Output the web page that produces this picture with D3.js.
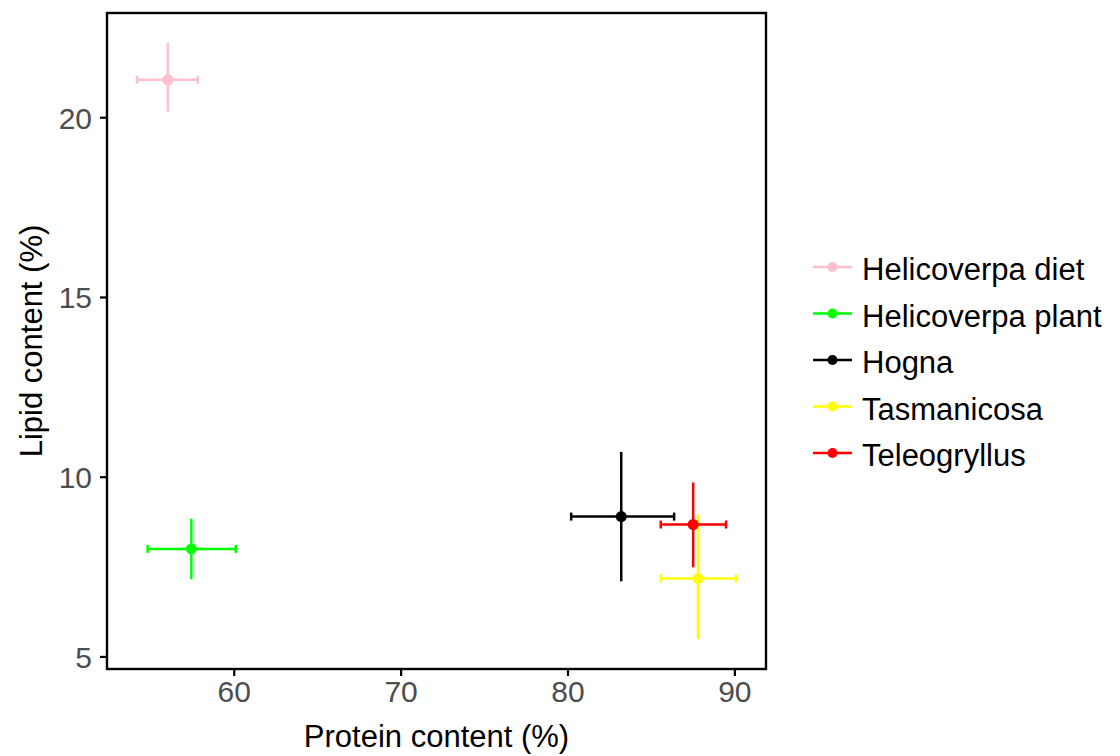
<!DOCTYPE html>
<html>
<head>
<meta charset="utf-8">
<script src="https://cdn.jsdelivr.net/npm/d3@7"></script>
<style>
  body { margin: 0; background: #fff; }
  svg text { font-family: "Liberation Sans", Arial, sans-serif; }
</style>
</head>
<body>
<div id="chart"></div>
<script>
// categories and values
var groups  = ["Helicoverpa diet", "Helicoverpa plant", "Hogna", "Tasmanicosa", "Teleogryllus"];
var colours = ["#FFC0CB", "#00FF00", "#000000", "#FFFF00", "#FF0000"];
var protein    = [56.05, 57.46, 83.22, 87.82, 87.53];
var proteinMin = [54.20, 54.84, 80.22, 85.59, 85.59];
var proteinMax = [57.85, 60.12, 86.39, 90.10, 89.50];
var lipid      = [21.04, 7.99, 8.89, 7.17, 8.67];
var lipidMin   = [20.15, 7.15, 7.09, 5.48, 7.48];
var lipidMax   = [22.07, 8.83, 10.69, 8.94, 9.84];
var xTicks = [60, 70, 80, 90];
var yTicks = [5, 10, 15, 20];

var data = groups.map(function(g, i) {
    return {group: g, colour: colours[i],
            x: protein[i], xmin: proteinMin[i], xmax: proteinMax[i],
            y: lipid[i], ymin: lipidMin[i], ymax: lipidMax[i]};
});

var W = 1120, H = 756;
var margin = {top: 13, left: 107};
var pw = 659, ph = 656;   // panel size
var lw = 2.5;             // error bar line width

// ggplot-like 5% expansion
function expand(lo, hi) { var d = (hi - lo) * 0.05; return [lo - d, hi + d]; }
var x = d3.scaleLinear()
    .domain(expand(d3.min(proteinMin), d3.max(proteinMax)))
    .range([0, pw]);
var y = d3.scaleLinear()
    .domain(expand(d3.min(lipidMin), d3.max(lipidMax)))
    .range([ph, 0]);

var svg = d3.select("#chart").append("svg")
    .attr("width", W).attr("height", H);

var g = svg.append("g")
    .attr("transform", "translate(" + margin.left + "," + margin.top + ")");

// axes
var xAxis = g.append("g")
    .attr("transform", "translate(0," + ph + ")")
    .call(d3.axisBottom(x).tickValues(xTicks).tickSize(7).tickPadding(20));
var yAxis = g.append("g")
    .call(d3.axisLeft(y).tickValues(yTicks).tickSize(7).tickPadding(8));
[xAxis, yAxis].forEach(function(a) {
    a.select(".domain").remove();
    a.selectAll(".tick line").attr("stroke", "#000").attr("stroke-width", 2.2);
    a.selectAll(".tick text")
        .attr("fill", "#4d4d4d")
        .style("font-size", "30px");
});
xAxis.selectAll(".tick text").attr("dy", "0.2em");
yAxis.selectAll(".tick text").attr("dy", "0.36em");

// panel border
g.append("rect")
    .attr("width", pw).attr("height", ph)
    .attr("fill", "none")
    .attr("stroke", "#000")
    .attr("stroke-width", 2.4);

// error bars and points
var cap = 4;
var pts = g.selectAll(".grp").data(data).enter().append("g").attr("class", "grp");
pts.append("line")
    .attr("x1", function(d) { return x(d.xmin); })
    .attr("x2", function(d) { return x(d.xmax); })
    .attr("y1", function(d) { return y(d.y); })
    .attr("y2", function(d) { return y(d.y); })
    .attr("stroke", function(d) { return d.colour; })
    .attr("stroke-width", lw);
pts.selectAll(".cap")
    .data(function(d) { return [{v: d.xmin, d: d}, {v: d.xmax, d: d}]; })
    .enter().append("line")
    .attr("class", "cap")
    .attr("x1", function(c) { return x(c.v); })
    .attr("x2", function(c) { return x(c.v); })
    .attr("y1", function(c) { return y(c.d.y) - cap; })
    .attr("y2", function(c) { return y(c.d.y) + cap; })
    .attr("stroke", function(c) { return c.d.colour; })
    .attr("stroke-width", lw);
pts.append("line")
    .attr("x1", function(d) { return x(d.x); })
    .attr("x2", function(d) { return x(d.x); })
    .attr("y1", function(d) { return y(d.ymin); })
    .attr("y2", function(d) { return y(d.ymax); })
    .attr("stroke", function(d) { return d.colour; })
    .attr("stroke-width", lw);
pts.append("circle")
    .attr("cx", function(d) { return x(d.x); })
    .attr("cy", function(d) { return y(d.y); })
    .attr("r", 5.5)
    .attr("fill", function(d) { return d.colour; });

// axis titles
svg.append("text")
    .attr("x", margin.left + pw / 2)
    .attr("y", 747)
    .attr("text-anchor", "middle")
    .style("font-size", "31px")
    .attr("fill", "#000")
    .text("Protein content (%)");
svg.append("text")
    .attr("transform", "translate(42," + (margin.top + ph / 2) + ") rotate(-90)")
    .attr("text-anchor", "middle")
    .style("font-size", "31px")
    .attr("fill", "#000")
    .text("Lipid content (%)");

// legend
var legend = svg.append("g").attr("transform", "translate(813,267)");
var item = legend.selectAll(".item").data(data).enter().append("g")
    .attr("transform", function(d, i) { return "translate(0," + (i * 46.5) + ")"; });
item.append("line")
    .attr("x1", 0).attr("x2", 39)
    .attr("stroke", function(d) { return d.colour; })
    .attr("stroke-width", lw);
item.append("circle")
    .attr("cx", 19.5).attr("r", 5)
    .attr("fill", function(d) { return d.colour; });
item.append("text")
    .attr("x", 49).attr("y", 13)
    .style("font-size", "31px")
    .attr("fill", "#000")
    .text(function(d) { return d.group; });
</script>
</body>
</html>
